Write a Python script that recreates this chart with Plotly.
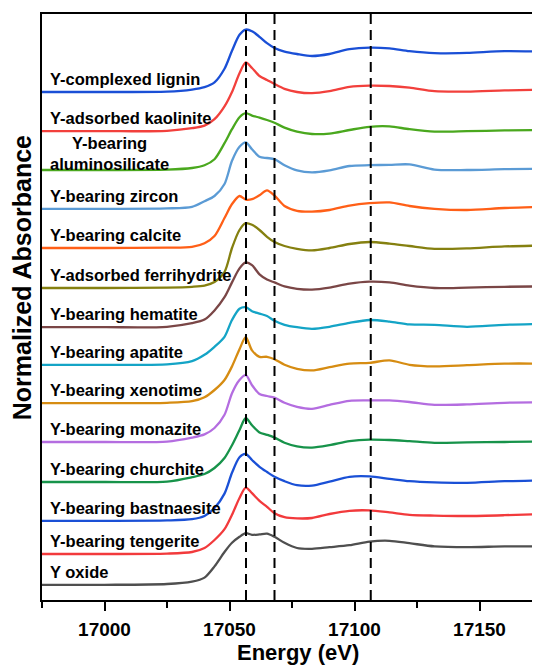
import plotly.graph_objects as go

# ---------------- data ----------------
energy = [16975, 17000, 17025, 17035, 17040, 17044, 17048, 17051, 17054, 17056.5,
          17059, 17062, 17065, 17068, 17072, 17077, 17083, 17090, 17098, 17106,
          17114, 17122, 17132, 17145, 17160, 17175]

names = ["Y-complexed lignin", "Y-adsorbed kaolinite", "Y-bearing<br>aluminosilicate",
         "Y-bearing zircon", "Y-bearing calcite", "Y-adsorbed ferrihydrite",
         "Y-bearing hematite", "Y-bearing apatite", "Y-bearing xenotime",
         "Y-bearing monazite", "Y-bearing churchite", "Y-bearing bastnaesite",
         "Y-bearing tengerite", "Y oxide"]

lignin = [0, 0, 0.01, 0.06, 0.12, 0.24, 0.58, 1.03, 1.43, 1.56, 1.52, 1.38, 1.22, 1.10,
          1.01, 0.95, 0.90, 0.95, 1.07, 1.11, 1.09, 1.02, 0.97, 0.98, 1.02, 1.01]
kaolinite = [0, 0, 0.01, 0.075, 0.14, 0.30, 0.62, 0.98, 1.45, 1.72, 1.58, 1.38, 1.28, 1.18,
             1.06, 0.98, 0.95, 1.00, 1.11, 1.14, 1.13, 1.09, 1.00, 0.99, 1.02, 1.04]
aluminosilicate = [0, 0, 0.01, 0.05, 0.12, 0.27, 0.67, 1.02, 1.32, 1.42, 1.36, 1.31, 1.25, 1.18,
                   1.06, 0.96, 0.90, 0.91, 1.00, 1.08, 1.09, 1.02, 0.96, 0.97, 0.99, 1.00]
zircon = [0, 0, 0.01, 0.05, 0.19, 0.32, 0.62, 1.20, 1.55, 1.66, 1.49, 1.30, 1.27, 1.24,
          1.09, 0.96, 0.91, 0.96, 1.07, 1.09, 1.10, 1.11, 0.98, 0.97, 0.99, 1.00]
calcite = [0, 0, 0.01, 0.03, 0.12, 0.30, 0.75, 1.10, 1.30, 1.21, 1.22, 1.32, 1.44, 1.31,
           1.05, 0.93, 0.91, 0.95, 1.06, 1.12, 1.14, 1.05, 0.98, 0.95, 1.00, 1.03]
ferrihydrite = [0, 0, 0.01, 0.03, 0.06, 0.15, 0.40, 1.00, 1.45, 1.62, 1.58, 1.45, 1.28, 1.15,
                1.05, 0.98, 0.94, 1.00, 1.10, 1.15, 1.11, 1.05, 0.98, 0.99, 1.04, 1.06]
hematite = [0, 0, 0.01, 0.10, 0.19, 0.42, 0.75, 1.12, 1.47, 1.62, 1.55, 1.32, 1.19, 1.12,
            1.02, 0.96, 0.94, 0.99, 1.09, 1.14, 1.12, 1.04, 0.98, 0.99, 1.01, 1.02]
apatite = [0, 0, 0.01, 0.09, 0.25, 0.45, 0.70, 1.12, 1.40, 1.44, 1.34, 1.28, 1.22, 1.10,
           1.00, 0.94, 0.90, 0.95, 1.05, 1.12, 1.08, 1.01, 1.00, 0.95, 1.00, 1.02]
xenotime = [0, 0, 0.01, 0.05, 0.15, 0.33, 0.58, 0.92, 1.35, 1.65, 1.32, 1.16, 1.16, 1.10,
            0.96, 0.86, 0.82, 0.90, 0.99, 1.01, 1.07, 0.96, 0.92, 0.95, 0.99, 0.99]
monazite = [0, 0, 0.01, 0.11, 0.19, 0.35, 0.68, 1.22, 1.55, 1.67, 1.42, 1.20, 1.15, 1.11,
            0.98, 0.88, 0.83, 0.93, 1.03, 1.04, 1.04, 1.00, 0.93, 0.94, 0.98, 0.99]
churchite = [0, 0, 0.01, 0.12, 0.20, 0.35, 0.60, 0.92, 1.30, 1.60, 1.42, 1.24, 1.18, 1.11,
             0.98, 0.89, 0.86, 0.92, 1.02, 1.06, 1.05, 1.02, 0.98, 0.99, 1.00, 1.01]
bastnaesite = [0, 0, 0.01, 0.04, 0.12, 0.32, 0.68, 1.20, 1.59, 1.67, 1.52, 1.35, 1.22, 1.10,
               0.99, 0.89, 0.88, 0.98, 1.10, 1.11, 1.05, 0.99, 0.96, 0.95, 0.99, 1.01]
tengerite = [0, 0, 0.01, 0.05, 0.15, 0.35, 0.62, 0.98, 1.40, 1.66, 1.52, 1.33, 1.18, 1.02,
             0.92, 0.89, 0.90, 1.00, 1.08, 1.09, 1.04, 0.98, 0.96, 0.95, 0.97, 1.00]
y_oxide = [0, 0, 0.02, 0.08, 0.18, 0.46, 0.82, 1.05, 1.20, 1.29, 1.25, 1.26, 1.28, 1.20,
           1.05, 0.92, 0.90, 0.94, 0.99, 1.08, 1.10, 1.04, 0.96, 0.94, 0.96, 0.96]

spectra = [lignin, kaolinite, aluminosilicate, zircon, calcite, ferrihydrite, hematite,
           apatite, xenotime, monazite, churchite, bastnaesite, tengerite, y_oxide]

offsets = [12.7, 11.72, 10.75, 9.78, 8.8, 7.8, 6.82, 5.88, 4.92, 3.95, 2.95, 1.98, 1.15, 0.38]

colors = ["#1a4fd6", "#f2403c", "#4aa81e", "#5b9bd5", "#ff5f17", "#858010", "#7a4646",
          "#14a4c6", "#d68c12", "#b46de0", "#17934a", "#1a50d6", "#f23a3c", "#4f4f4f"]

dashed_energies = [17056.6, 17068, 17106.5]
x_ticks = [17000, 17050, 17100, 17150]

# ---------------- figure ----------------
FONT = "Liberation Sans, Arial, sans-serif"
fig = go.Figure()

for name, vals, off, col in zip(names, spectra, offsets, colors):
    fig.add_trace(go.Scatter(
        x=energy, y=[v + off for v in vals], mode="lines",
        line=dict(color=col, width=2.3, shape="spline", smoothing=0.8),
        name=name.replace("<br>", " "), showlegend=False, hoverinfo="skip"))

for e in dashed_energies:
    fig.add_shape(type="line", xref="x", yref="paper", x0=e, x1=e, y0=0, y1=1,
                  line=dict(color="black", width=2, dash="10px,6px"))

label_dy = 0.32
for name, off in zip(names, offsets):
    if "<br>" in name:
        fig.add_annotation(x=17002, y=off + 0.41, xref="x", yref="y", text=name,
                           showarrow=False, xanchor="center", yanchor="middle",
                           align="center",
                           font=dict(family=FONT, size=16.5, color="black", weight="bold"))
    else:
        fig.add_annotation(x=16977.3, y=off + label_dy, xref="x", yref="y", text=name,
                           showarrow=False, xanchor="left", yanchor="middle",
                           font=dict(family=FONT, size=16.5, color="black", weight="bold"))

# axis titles
fig.add_annotation(x=0.506, y=-0.0648, xref="paper", yref="paper", text="Energy (eV)",
                   showarrow=False, xanchor="center", yanchor="top",
                   font=dict(family=FONT, size=22, color="black", weight="bold"))
fig.add_annotation(x=-0.0395, y=0.549, xref="paper", yref="paper", text="Normalized Absorbance",
                   showarrow=False, xanchor="center", yanchor="middle", textangle=-90,
                   font=dict(family=FONT, size=25, color="black", weight="bold"))

fig.update_layout(
    width=540, height=667,
    margin=dict(l=34, r=0, t=6, b=75),
    paper_bgcolor="white", plot_bgcolor="white",
    xaxis=dict(range=[16975, 17177.4], tickvals=x_ticks, tickformat="d", ticks="outside",
               ticklen=9, tickwidth=2, tickcolor="black",
               minor=dict(dtick=25, tick0=16975, ticks="outside", ticklen=6,
                          tickwidth=2, tickcolor="black"),
               showline=True, linewidth=2, linecolor="black", mirror=True,
               showgrid=False, zeroline=False, ticklabelstandoff=2,
               tickfont=dict(family=FONT, size=19, color="black", weight="bold")),
    yaxis=dict(range=[0, 14.65], showticklabels=False, ticks="",
               showline=True, linewidth=2, linecolor="black",
               showgrid=False, zeroline=False),
)

fig.write_html("out.html")
